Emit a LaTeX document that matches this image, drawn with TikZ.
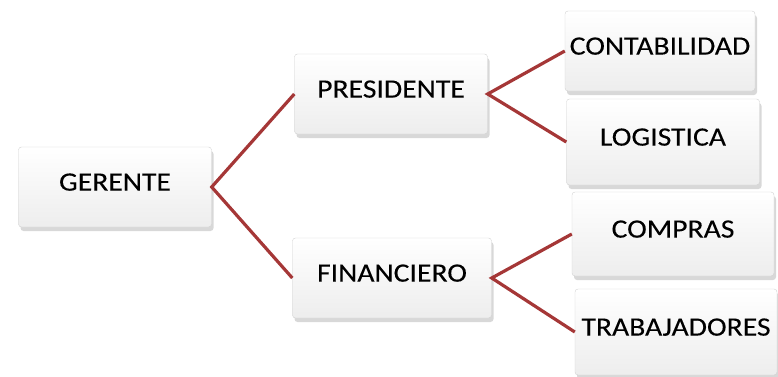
\documentclass[tikz,border=0pt]{standalone}
\usepackage{fontspec}
\setmainfont{Carlito}[FakeStretch=1.12,FakeBold=0.12]
\usetikzlibrary{shadows}
\definecolor{rojizo}{RGB}{165,55,55}
\tikzset{
  cargo/.style={draw=gray!35, rounded corners=3pt, top color=white, bottom color=gray!14,
    minimum width=193pt, minimum height=80pt, inner sep=2pt, text depth=10pt,
    font=\fontsize{26.5}{30}\selectfont,
    drop shadow={shadow xshift=2pt, shadow yshift=-4pt, fill=gray!60}},
  rama/.style={draw=rojizo, line width=3.2pt}
}
\begin{document}
\begin{tikzpicture}[x=1pt,y=-1pt]
\useasboundingbox (0,0) rectangle (778,376);
% niveles del organigrama
\node[cargo] (ger) at (115,187) {GERENTE};
\node[cargo] (pre) at (391,94) {PRESIDENTE};
\node[cargo, minimum width=199pt] (fin) at (392,278) {FINANCIERO};
\node[cargo, minimum width=190pt] (con) at (660,51) {CONTABILIDAD};
\node[cargo, minimum height=86pt] (log) at (663,142) {LOGISTICA};
\node[cargo, minimum width=202pt, minimum height=84pt] (com) at (673,234) {COMPRAS};
\node[cargo, minimum width=202pt, minimum height=86pt] (tra) at (676,332) {TRABAJADORES};
% ramas
\draw[rama] (pre.west) -- (ger.east) -- (fin.west);
\draw[rama] (con.west) -- (pre.east) -- (log.west);
\draw[rama] (com.west) -- (fin.east) -- (tra.west);
\end{tikzpicture}
\end{document}
